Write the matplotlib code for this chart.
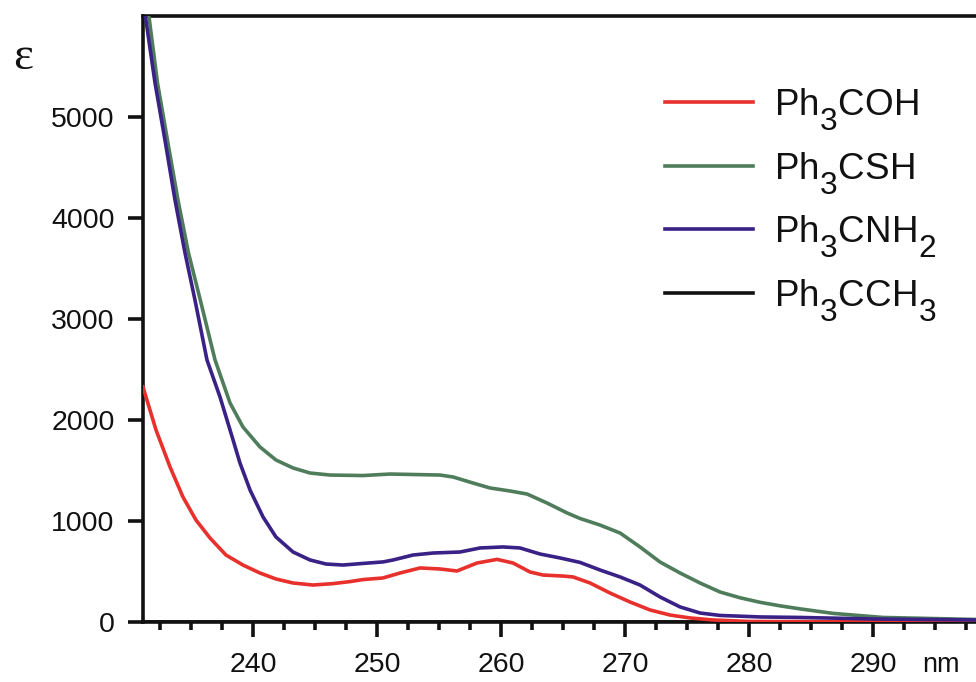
import matplotlib
matplotlib.use("Agg")
import matplotlib.pyplot as plt
from matplotlib.ticker import MultipleLocator
try:
    import matplotlib._mathtext as _mt
    _mt.SHRINK_FACTOR = 0.86
    _mt.FontConstantsBase.sub1 = 0.75
    _mt.FontConstantsBase.subdrop = 0.6
except Exception:
    pass

plt.rcParams['font.family'] = ['Liberation Sans', 'DejaVu Sans']
plt.rcParams['mathtext.fontset'] = 'custom'
plt.rcParams['mathtext.rm'] = 'Liberation Sans'
plt.rcParams['mathtext.it'] = 'Liberation Sans'
plt.rcParams['mathtext.default'] = 'regular'

# ---- data (wavelength nm, epsilon) ----
x_nh2 = [231.2, 232.10, 232.90, 233.71, 234.52, 235.32, 236.29, 237.34, 238.15, 238.95,
         239.76, 240.81, 241.85, 243.23, 244.60, 245.89, 247.26, 248.87, 250.5, 251.29,
         252.90, 254.52, 256.69, 258.31, 260.16, 261.53, 263.15, 264.76, 266.37, 267.98,
         269.60, 271.21, 272.82, 274.44, 276.05, 277.66, 280.89, 284.11, 290.0, 298.3]
y_nh2 = [6100, 5337, 4772, 4178, 3653, 3188, 2594, 2228, 1901, 1574,
         1307, 1040, 842, 693, 614, 574, 564, 580, 595, 614,
         663, 683, 693, 733, 743, 733, 673, 634, 590, 515,
         446, 366, 248, 149, 89, 65, 50, 45, 30, 20]

x_sh = [231.5, 232.3, 233.1, 233.95, 234.8, 235.75, 236.94, 238.15, 239.19, 240.56,
        241.85, 243.23, 244.60, 246.21, 248.87, 251.05, 255.08, 256.13, 257.74, 259.11,
        260.73, 262.10, 263.71, 265.32, 266.37, 267.98, 269.60, 271.21, 272.82, 274.44,
        276.05, 277.66, 279.27, 280.89, 282.50, 284.11, 286.8, 290.8, 298.3]
y_sh = [6100, 5337, 4772, 4178, 3653, 3188, 2594, 2168, 1931, 1733,
        1604, 1525, 1475, 1455, 1450, 1465, 1455, 1436, 1376, 1327,
        1297, 1267, 1178, 1080, 1025, 960, 881, 743, 594, 485,
        386, 297, 240, 195, 160, 130, 85, 45, 25]

x_oh = [231.13, 232.18, 233.31, 234.35, 235.40, 236.53, 237.82, 239.19, 240.56, 241.85,
        243.23, 244.84, 246.45, 247.82, 248.87, 250.48, 251.85, 253.47, 255.08, 256.45,
        258.06, 259.68, 260.97, 262.34, 263.39, 265.00, 265.81, 267.18, 268.79, 270.40,
        272.02, 273.63, 275.24, 277.10, 280.0, 298.3]
y_oh = [2327, 1901, 1535, 1238, 1010, 832, 663, 564, 485, 426,
        386, 366, 380, 400, 420, 436, 485, 535, 525, 505,
        584, 620, 584, 495, 465, 455, 446, 386, 287, 198,
        119, 69, 40, 20, 5, 0]

x_ch3 = [231.13, 298.3]
y_ch3 = [0, 0]

labels = ['Ph$_3$COH', 'Ph$_3$CSH', 'Ph$_3$CNH$_2$', 'Ph$_3$CCH$_3$']
colors = ['#e8302c', '#4f7d5c', '#3a2186', '#111111']
xticks = [240, 250, 260, 270, 280, 290]
yticks = [0, 1000, 2000, 3000, 4000, 5000]

fig = plt.figure(figsize=(9.76, 6.82), dpi=100)
ax = fig.add_axes([143/976, 1 - 622/682, 1 - 143/976, (622 - 16)/682])

lw = 2.6
ax.plot(x_ch3, y_ch3, color=colors[3], lw=lw, zorder=1)
l_oh, = ax.plot(x_oh, y_oh, color=colors[0], lw=lw, label=labels[0], zorder=3,
                solid_joinstyle='round')
l_sh, = ax.plot(x_sh, y_sh, color=colors[1], lw=lw, label=labels[1], zorder=3,
                solid_joinstyle='round')
l_nh, = ax.plot(x_nh2, y_nh2, color=colors[2], lw=lw, label=labels[2], zorder=4,
                solid_joinstyle='round')
l_ch, = ax.plot([], [], color=colors[3], lw=lw, label=labels[3])

ax.set_xlim(231.13, 298.3)
ax.set_ylim(0, 6000)
ax.set_xticks(xticks)
ax.set_yticks(yticks)
ax.xaxis.set_minor_locator(MultipleLocator(2.5))

for s in ['left', 'bottom', 'top']:
    ax.spines[s].set_linewidth(2.6)
    ax.spines[s].set_color('#111111')
ax.spines['right'].set_visible(False)

ax.tick_params(axis='both', which='major', direction='out', length=10.5, width=2.6,
               labelsize=20.5, colors='#111111', pad=11)
ax.tick_params(axis='x', which='minor', direction='out', length=5.5, width=2.6,
               colors='#111111')
ax.tick_params(axis='y', which='major', pad=10)
ax.tick_params(top=False, right=False)

leg = ax.legend(handles=[l_oh, l_sh, l_nh, l_ch], loc='upper left',
                bbox_to_anchor=(665/976, 1 - 86/682), bbox_transform=fig.transFigure,
                frameon=False, fontsize=26.5, handlelength=2.4, handletextpad=0.55,
                labelspacing=0.48, borderpad=0, borderaxespad=0)
for t in leg.get_texts():
    t.set_color('#111111')

fig.text(941/976, 1 - 665/682, 'nm', fontsize=19.5, ha='center', va='center', color='#111111')
fig.text(23/976, 1 - 58/682, 'ε', fontsize=34, ha='center', va='center',
         family=['Liberation Serif', 'DejaVu Serif'], color='#111111')

fig.savefig('out.png', dpi=100)
